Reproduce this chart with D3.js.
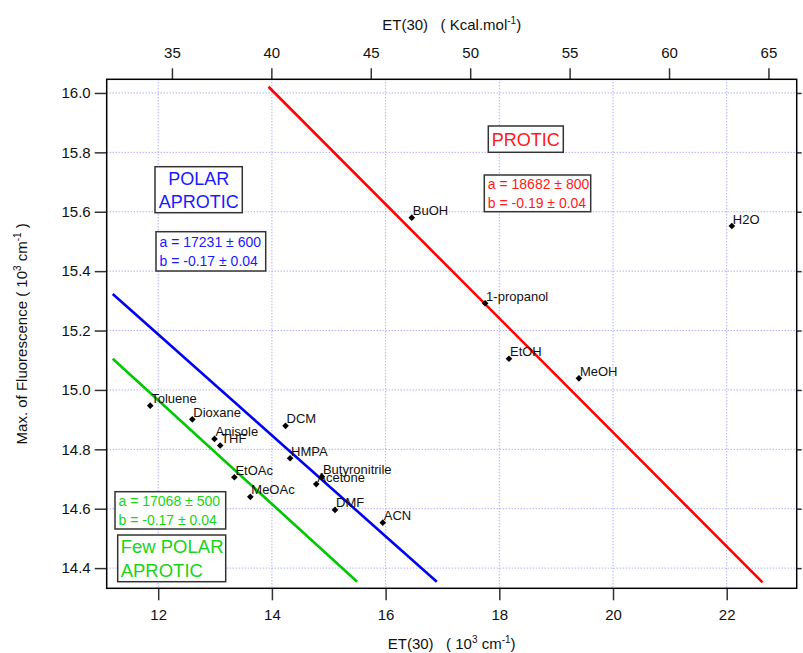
<!DOCTYPE html>
<html>
<head>
<meta charset="utf-8">
<script src="https://cdn.jsdelivr.net/npm/d3@7"></script>
<style>
  body { margin: 0; background: #fff; }
  svg { font-family: "Liberation Sans", Arial, sans-serif; }
  text { white-space: pre; }
</style>
</head>
<body>
<svg id="chart" width="803" height="653"></svg>
<script>
// solvents (ET(30) in 10^3 cm-1, fluorescence max in 10^3 cm-1)
const solvents = ["Toluene", "Dioxane", "Anisole", "THF", "DCM", "HMPA", "EtOAc", "MeOAc",
  "Butyronitrile", "Acetone", "DMF", "ACN", "BuOH", "1-propanol", "EtOH", "MeOH", "H2O"];
const etValues = [11.86, 12.60, 12.99, 13.09, 14.24, 14.32, 13.34, 13.62,
  14.88, 14.78, 15.11, 15.95, 16.46, 17.75, 18.17, 19.40, 22.09];
const fluoValues = [14.947, 14.901, 14.835, 14.813, 14.879, 14.770, 14.706, 14.640,
  14.708, 14.683, 14.596, 14.553, 15.580, 15.292, 15.105, 15.039, 15.552];

// fitted lines, endpoints
const fitColors = ["#ff0000", "#0000f0", "#00c800"];
const fitX0 = [13.94, 11.20, 11.20];
const fitY0 = [16.021, 15.323, 15.105];
const fitX1 = [22.63, 16.90, 15.50];
const fitY1 = [14.352, 14.354, 14.354];
const fitA = ["a = 18682 ± 800", "a = 17231 ± 600", "a = 17068 ± 500"];
const fitB = ["b = -0.19 ± 0.04", "b = -0.17 ± 0.04", "b = -0.17 ± 0.04"];
const groupNames = [["PROTIC"], ["POLAR", "APROTIC"], ["Few POLAR", "APROTIC"]];

const bottomTicks = [12, 14, 16, 18, 20, 22];
const topTicks = [35, 40, 45, 50, 55, 60, 65];
const leftTicks = [14.4, 14.6, 14.8, 15.0, 15.2, 15.4, 15.6, 15.8, 16.0];
const kcalFactor = 0.349755; // 1 kcal/mol in 10^3 cm-1

const svg = d3.select("#chart");
const pLeft = 106.7, pRight = 796.7, pTop = 79.3, pBottom = 588.3;

const x = d3.scaleLinear().domain([11.094, 23.231]).range([pLeft, pRight]);
const xTop = d3.scaleLinear().domain([11.094 / kcalFactor, 23.231 / kcalFactor]).range([pLeft, pRight]);
const y = d3.scaleLinear().domain([14.332, 16.046]).range([pBottom, pTop]);

// grid
const grid = svg.append("g").attr("stroke", "#8c8cff").attr("stroke-width", 1)
  .attr("stroke-dasharray", "1,2");
grid.selectAll(".gx").data(bottomTicks).enter().append("line")
  .attr("x1", d => x(d)).attr("x2", d => x(d)).attr("y1", pTop).attr("y2", pBottom);
grid.selectAll(".gy").data(leftTicks).enter().append("line")
  .attr("y1", d => y(d)).attr("y2", d => y(d)).attr("x1", pLeft).attr("x2", pRight);

// axes
function styleAxis(g) {
  g.select(".domain").remove();
  g.selectAll(".tick line").attr("stroke", "#333").attr("stroke-width", 1.5);
  g.selectAll(".tick text").attr("font-size", 15).attr("fill", "#111")
    .attr("font-family", "Liberation Sans, Arial, sans-serif");
}
svg.append("g").attr("transform", `translate(0,${pBottom})`)
  .call(d3.axisBottom(x).tickValues(bottomTicks).tickSize(12).tickPadding(9).tickFormat(d3.format("d")))
  .call(styleAxis);
svg.append("g").attr("transform", `translate(0,${pTop})`)
  .call(d3.axisTop(xTop).tickValues(topTicks).tickSize(11).tickPadding(10).tickFormat(d3.format("d")))
  .call(styleAxis);
svg.append("g").attr("transform", `translate(${pLeft},0)`)
  .call(d3.axisLeft(y).tickValues(leftTicks).tickSize(12).tickPadding(4).tickFormat(d3.format(".1f")))
  .call(styleAxis);
svg.append("g").attr("transform", `translate(${pRight},0)`)
  .call(d3.axisRight(y).tickValues(leftTicks).tickSize(5).tickFormat(""))
  .call(styleAxis);

svg.append("rect").attr("x", pLeft).attr("y", pTop).attr("width", pRight - pLeft).attr("height", pBottom - pTop)
  .attr("fill", "none").attr("stroke", "#000").attr("stroke-width", 1.5);

// axis titles, superscripts shift up and the next part shifts back down
function titleWithSup(t, parts) {
  let back = 0;
  parts.forEach(p => {
    if (p.sup) {
      t.append("tspan").attr("dy", -6 + back).attr("font-size", 10).text(p.sup);
      back = 6;
    } else {
      t.append("tspan").attr("dy", back).text(p.t);
      back = 0;
    }
  });
}
const cx = (pLeft + pRight) / 2;
let t = svg.append("text").attr("x", cx).attr("y", 30).attr("text-anchor", "middle")
  .attr("font-size", 15).attr("fill", "#111");
titleWithSup(t, [{t: "ET(30)   ( Kcal.mol"}, {sup: "-1"}, {t: ")"}]);
t = svg.append("text").attr("x", cx).attr("y", 649).attr("text-anchor", "middle")
  .attr("font-size", 15).attr("fill", "#111");
titleWithSup(t, [{t: "ET(30)   ( 10"}, {sup: "3"}, {t: " cm"}, {sup: "-1"}, {t: ")"}]);
t = svg.append("text").attr("transform", `translate(27,${(pTop + pBottom) / 2}) rotate(-90)`)
  .attr("text-anchor", "middle").attr("font-size", 15).attr("fill", "#111");
titleWithSup(t, [{t: "Max. of Fluorescence ( 10"}, {sup: "3"}, {t: " cm"}, {sup: "-1"}, {t: " )"}]);

// fit lines
svg.append("g").selectAll("line").data(fitColors).enter().append("line")
  .attr("x1", (d, i) => x(fitX0[i])).attr("y1", (d, i) => y(fitY0[i]))
  .attr("x2", (d, i) => x(fitX1[i])).attr("y2", (d, i) => y(fitY1[i]))
  .attr("stroke", d => d).attr("stroke-width", 2.6);

// points
const pts = svg.append("g");
pts.selectAll("path").data(solvents).enter().append("path")
  .attr("d", d3.symbol(d3.symbolSquare, 22))
  .attr("transform", (d, i) => `translate(${x(etValues[i])},${y(fluoValues[i])}) rotate(45)`)
  .attr("fill", "#000");
pts.selectAll("text").data(solvents).enter().append("text")
  .attr("x", (d, i) => x(etValues[i]) + 1).attr("y", (d, i) => y(fluoValues[i]) - 2.5)
  .attr("font-size", 13).attr("fill", "#111").text(d => d);

// annotation boxes (pixel layout)
const nameBoxes = [
  {x: 488.3, y: 126, w: 75, h: 26.3, fs: 18, anchor: "middle"},
  {x: 155, y: 166.7, w: 87.3, h: 46, fs: 18, anchor: "middle"},
  {x: 117.7, y: 535, w: 108, h: 46.7, fs: 18.5, anchor: "start"}
];
const fitBoxes = [
  {x: 484.3, y: 175, w: 106.4, h: 36.7},
  {x: 156, y: 231.7, w: 109.7, h: 39.3},
  {x: 115, y: 491.7, w: 110.7, h: 37.3}
];
const textColors = ["#ff1a1a", "#1a1aff", "#1ad21a"];

nameBoxes.forEach((b, i) => {
  svg.append("rect").attr("x", b.x).attr("y", b.y).attr("width", b.w).attr("height", b.h)
    .attr("fill", "#fff").attr("stroke", "#333").attr("stroke-width", 1.5);
  const lines = groupNames[i];
  const tx = b.anchor === "middle" ? b.x + b.w / 2 : b.x + 3;
  lines.forEach((ln, j) => {
    const lh = b.h / lines.length;
    svg.append("text").attr("x", tx).attr("y", b.y + lh * j + lh / 2 + b.fs * 0.36)
      .attr("text-anchor", b.anchor).attr("font-size", b.fs).attr("fill", textColors[i]).text(ln);
  });
});
fitBoxes.forEach((b, i) => {
  svg.append("rect").attr("x", b.x).attr("y", b.y).attr("width", b.w).attr("height", b.h)
    .attr("fill", "#fff").attr("stroke", "#333").attr("stroke-width", 1.5);
  [fitA[i], fitB[i]].forEach((ln, j) => {
    svg.append("text").attr("x", b.x + 3.5).attr("y", b.y + b.h / 4 + b.h / 2 * j + 5)
      .attr("font-size", 14).attr("fill", textColors[i]).text(ln);
  });
});
</script>
</body>
</html>
